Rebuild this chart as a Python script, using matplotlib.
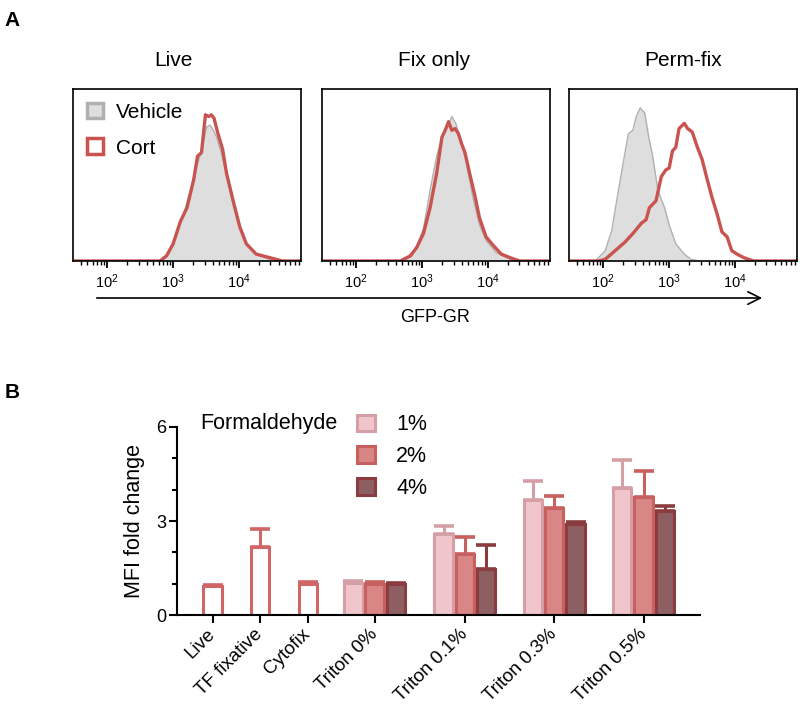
import matplotlib
matplotlib.use("Agg")
import matplotlib.pyplot as plt
import numpy as np
from matplotlib.patches import Patch
from matplotlib.ticker import LogLocator, NullFormatter, FixedLocator

plt.rcParams['font.family'] = ['Liberation Sans', 'DejaVu Sans']
plt.rcParams['mathtext.fontset'] = 'custom'
plt.rcParams['mathtext.rm'] = 'Liberation Sans'
plt.rcParams['mathtext.it'] = 'Liberation Sans:italic'
plt.rcParams['mathtext.bf'] = 'Liberation Sans:bold'

# ---- panel A: GFP-GR histograms (x = log10 intensity, y = fraction of axis height)
live_veh_x = [2.80, 2.85, 2.95, 3.06, 3.16, 3.26, 3.36, 3.43, 3.51, 3.56, 3.61, 3.66, 3.73, 3.81, 3.91, 4.01, 4.11, 4.26, 4.46, 4.60]
live_veh_y = [0.00, 0.01, 0.06, 0.18, 0.27, 0.41, 0.55, 0.64, 0.78, 0.79, 0.76, 0.72, 0.63, 0.50, 0.33, 0.19, 0.10, 0.04, 0.01, 0.00]
live_cort_x = [2.80, 2.90, 3.00, 3.11, 3.21, 3.31, 3.37, 3.43, 3.49, 3.54, 3.58, 3.62, 3.68, 3.75, 3.81, 3.91, 4.01, 4.11, 4.26, 4.46, 4.66]
live_cort_y = [0.00, 0.03, 0.10, 0.23, 0.31, 0.47, 0.61, 0.63, 0.85, 0.84, 0.85, 0.83, 0.74, 0.65, 0.51, 0.35, 0.20, 0.10, 0.04, 0.02, 0.00]

fix_veh_x = [2.70, 2.85, 2.92, 3.02, 3.12, 3.22, 3.32, 3.40, 3.45, 3.51, 3.59, 3.67, 3.77, 3.87, 3.97, 4.12, 4.33, 4.45]
fix_veh_y = [0.00, 0.03, 0.09, 0.19, 0.41, 0.61, 0.74, 0.79, 0.84, 0.80, 0.70, 0.57, 0.37, 0.21, 0.12, 0.05, 0.01, 0.00]
fix_cort_x = [2.67, 2.82, 2.92, 3.02, 3.12, 3.22, 3.30, 3.35, 3.40, 3.45, 3.50, 3.55, 3.60, 3.65, 3.72, 3.80, 3.87, 3.97, 4.08, 4.20, 4.33, 4.48]
fix_cort_y = [0.00, 0.03, 0.08, 0.16, 0.31, 0.51, 0.72, 0.76, 0.81, 0.76, 0.77, 0.74, 0.68, 0.63, 0.51, 0.38, 0.25, 0.14, 0.09, 0.04, 0.02, 0.00]

perm_veh_x = [1.88, 2.03, 2.13, 2.23, 2.33, 2.38, 2.45, 2.50, 2.56, 2.63, 2.69, 2.75, 2.83, 2.93, 3.00, 3.10, 3.23, 3.33, 3.45]
perm_veh_y = [0.00, 0.06, 0.18, 0.41, 0.63, 0.74, 0.76, 0.84, 0.89, 0.86, 0.72, 0.61, 0.41, 0.31, 0.21, 0.10, 0.04, 0.01, 0.00]
perm_cort_x = [1.93, 2.03, 2.18, 2.33, 2.45, 2.58, 2.65, 2.70, 2.80, 2.88, 2.95, 3.00, 3.05, 3.10, 3.15, 3.23, 3.28,
               3.35, 3.43, 3.50, 3.58, 3.65, 3.73, 3.80, 3.88, 3.95, 4.03, 4.13, 4.28]
perm_cort_y = [0.00, 0.01, 0.06, 0.11, 0.16, 0.22, 0.24, 0.31, 0.35, 0.49, 0.53, 0.54, 0.64, 0.66, 0.77, 0.80, 0.77,
               0.75, 0.66, 0.59, 0.47, 0.37, 0.27, 0.17, 0.14, 0.06, 0.04, 0.02, 0.00]

hist_titles = ['Live', 'Fix only', 'Perm-fix']
hist_data = [(live_veh_x, live_veh_y, live_cort_x, live_cort_y),
             (fix_veh_x, fix_veh_y, fix_cort_x, fix_cort_y),
             (perm_veh_x, perm_veh_y, perm_cort_x, perm_cort_y)]

# ---- panel B: MFI fold change
single_labels = ['Live', 'TF fixative', 'Cytofix']
single_mean = [0.92, 2.16, 1.00]
single_err = [0.05, 0.58, 0.05]

triton_labels = ['Triton 0%', 'Triton 0.1%', 'Triton 0.3%', 'Triton 0.5%']
fa_labels = ['1%', '2%', '4%']
fa_1 = [1.02, 2.59, 3.68, 4.04]
fa_1_err = [0.07, 0.24, 0.59, 0.92]
fa_2 = [1.00, 1.96, 3.40, 3.78]
fa_2_err = [0.04, 0.52, 0.41, 0.83]
fa_4 = [0.98, 1.48, 2.89, 3.31]
fa_4_err = [0.04, 0.77, 0.08, 0.18]

veh_face = '#dedede'
veh_edge = '#b0b0b0'
cort_col = '#c9534f'
single_edge = '#d06668'
fa_face = ['#f0c6cc', '#d98686', '#8e5f62']
fa_edge = ['#d4a0a5', '#c8605f', '#8a3c3e']

W, H = 800, 707
fig = plt.figure(figsize=(8, 7.07), dpi=100)

def px_axes(left, top, right, bottom):
    return fig.add_axes([left / W, 1 - bottom / H, (right - left) / W, (bottom - top) / H])

xmin, xmax = 10 ** 1.48, 10 ** 4.94
hist_lefts = [73, 322, 569]
title_x = [173, 434, 683]
for i, (vx, vy, cx, cy) in enumerate(hist_data):
    ax = px_axes(hist_lefts[i], 89, hist_lefts[i] + 228, 261)
    vxx = 10 ** np.array(vx)
    cxx = np.concatenate([[xmin], 10 ** np.array(cx), [xmax]])
    cyy = np.concatenate([[0], cy, [0]])
    ax.fill_between(vxx, vy, color=veh_face, lw=0)
    ax.plot(vxx, vy, color=veh_edge, lw=1)
    ax.plot(cxx, cyy, color=cort_col, lw=2.4, solid_joinstyle='round')
    ax.set_xscale('log')
    ax.set_xlim(xmin, xmax)
    ax.set_ylim(0, 1)
    ax.set_yticks([])
    ax.xaxis.set_major_locator(FixedLocator([1e2, 1e3, 1e4]))
    ax.xaxis.set_minor_locator(LogLocator(base=10, subs=np.arange(2, 10)))
    ax.xaxis.set_minor_formatter(NullFormatter())
    ax.set_xticklabels([r'$\mathregular{10^2}$', r'$\mathregular{10^3}$', r'$\mathregular{10^4}$'])
    ax.tick_params(axis='x', which='major', length=5, width=1.3, labelsize=10.5, pad=3)
    ax.tick_params(axis='x', which='minor', length=3, width=1.0)
    for s in ax.spines.values():
        s.set_linewidth(1.2)
    fig.text(title_x[i] / W, 1 - 60 / H, hist_titles[i], ha='center', va='center', fontsize=15)
    if i == 0:
        handles = [Patch(facecolor=veh_face, edgecolor=veh_edge, lw=2.5, label='Vehicle'),
                   Patch(facecolor='white', edgecolor=cort_col, lw=2.5, label='Cort')]
        ax.legend(handles=handles, loc='upper left', frameon=False, fontsize=15,
                  handlelength=0.8, handleheight=0.8, handletextpad=0.6,
                  labelspacing=0.8, borderaxespad=0.45, borderpad=0.2)

fig.text(12 / W, 1 - 20 / H, 'A', ha='center', va='center', fontsize=15, fontweight='bold')
fig.text(12 / W, 1 - 392 / H, 'B', ha='center', va='center', fontsize=15, fontweight='bold')

fig.add_artist(matplotlib.patches.FancyArrowPatch((94 / W, 1 - 298 / H), (765 / W, 1 - 298 / H),
                                                  transform=fig.transFigure, arrowstyle='->,head_length=6,head_width=3',
                                                  mutation_scale=1.5, lw=1.2, color='black'))
fig.text(435 / W, 1 - 318 / H, 'GFP-GR', ha='center', va='center', fontsize=13)

# ---- panel B
axb = px_axes(177, 427, 700, 615)
single_x = [1.67, 3.89, 6.13]
group_x = np.array([9.26, 13.49, 17.67, 21.86])
bw = 0.86

axb.bar(single_x, single_mean, width=bw, facecolor='white', edgecolor=single_edge, lw=2.2, zorder=2)
axb.errorbar(single_x, single_mean, yerr=[np.zeros(3), single_err], fmt='none', ecolor=single_edge,
             elinewidth=2.2, capsize=7, capthick=2.6, zorder=3)

fa_means = [fa_1, fa_2, fa_4]
fa_errs = [fa_1_err, fa_2_err, fa_4_err]
for k in range(3):
    xs = group_x + (k - 1)
    axb.bar(xs, fa_means[k], width=bw, facecolor=fa_face[k], edgecolor=fa_edge[k], lw=2.2,
            label=fa_labels[k], zorder=2)
    axb.errorbar(xs, fa_means[k], yerr=[np.zeros(4), fa_errs[k]], fmt='none', ecolor=fa_edge[k],
                 elinewidth=2.2, capsize=7, capthick=2.6, zorder=3)

axb.set_xlim(0, 24.5)
axb.set_ylim(0, 6)
axb.spines['top'].set_visible(False)
axb.spines['right'].set_visible(False)
axb.spines['left'].set_linewidth(1.5)
axb.spines['bottom'].set_linewidth(1.5)
axb.set_yticks([0, 3, 6])
axb.set_yticks([1, 2, 4, 5], minor=True)
axb.tick_params(axis='y', which='major', length=6, width=1.5, labelsize=13, pad=2)
axb.tick_params(axis='y', which='minor', length=3.5, width=1.5)
axb.set_xticks(list(single_x) + list(group_x))
axb.set_xticklabels(single_labels + triton_labels, rotation=45, ha='right', va='center',
                    rotation_mode='anchor', fontsize=13.5)
axb.tick_params(axis='x', length=6, width=1.5, pad=6)
axb.set_ylabel('MFI fold change', fontsize=15.5, labelpad=8)

axb.legend(loc='upper left', bbox_to_anchor=(161 / 523, 1.17), frameon=False, fontsize=15.5,
           handlelength=0.8, handleheight=0.8, handletextpad=1.0, labelspacing=0.5)
fig.text(338 / W, 1 - 423 / H, 'Formaldehyde', ha='right', va='center', fontsize=15.5)

fig.savefig('out.png', dpi=100)
